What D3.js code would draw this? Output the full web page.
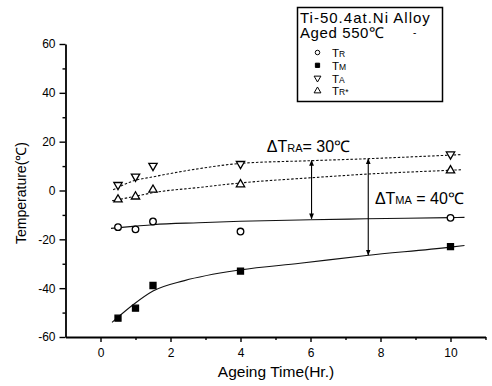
<!DOCTYPE html>
<html>
<head>
<meta charset="utf-8">
<script src="https://cdn.jsdelivr.net/npm/d3@7"></script>
<style>
body { margin: 0; background: #fff; }
text { font-family: "Liberation Sans", Arial, sans-serif; fill: #000; }
</style>
</head>
<body>
<svg width="492" height="386"></svg>
<script>
// measured points (ageing time in hours)
var ageTimes = [0.5, 1, 1.5, 4, 10];
var tR     = [-15, -15.9, -12.7, -16.8, -11.2];
var tM     = [-52.3, -48.2, -38.9, -33, -23];
var tA     = [2.3, 5.7, 10.1, 10.9, 14.8];
var tRstar = [-3.7, -2.5, 0.3, 2.5, 8.2];

// fitted curves
var fitA     = [[0.36, 0.3], [0.93, 3.9], [1.5, 5.6], [2.84, 9.0], [4, 11.1], [6, 12.2], [7.6, 13], [10, 14.5], [10.3, 14.7]];
var fitRstar = [[0.33, -4.2], [0.95, -2.5], [1.5, -0.9], [2.86, 1.3], [4, 3.1], [6, 5.2], [7.6, 6.7], [10, 8.3], [10.3, 8.5]];
var fitR     = [[0.3, -15.5], [1, -14.6], [1.5, -14], [2.8, -13.2], [4, -12.6], [6, -12], [7.6, -11.6], [10, -11.1], [10.4, -11]];
var fitM     = [[0.33, -54], [0.95, -46.6], [1.5, -41.2], [2.4, -36.9], [4, -32.5], [5.7, -29.8], [7.6, -26.6], [10, -23.2], [10.4, -22.5]];

// delta arrows: time, bottom, top
var deltaArrows = [[6.03, -11.6, 12.3], [7.65, -26.4, 13]];

var xTicks = [0, 2, 4, 6, 8, 10],
    xMinor = [1, 3, 5, 7, 9, 11],
    yTicks = [-60, -40, -20, 0, 20, 40, 60],
    yMinor = [-50, -30, -10, 10, 30, 50];

var svg = d3.select("svg");

var x = d3.scaleLinear().domain([-1, 11]).range([65.5, 485.5]),
    y = d3.scaleLinear().domain([-60, 60]).range([337, 44]);

var plain = function(d) { return String(d); };

var defs = svg.append("defs");
defs.append("marker")
    .attr("id", "head")
    .attr("viewBox", "0 0 10 10")
    .attr("refX", 9).attr("refY", 5)
    .attr("markerWidth", 6).attr("markerHeight", 6)
    .attr("markerUnits", "userSpaceOnUse")
    .attr("orient", "auto-start-reverse")
  .append("path")
    .attr("d", "M0,1L10,5L0,9Z")
    .attr("fill", "#000");

// axes
svg.append("g")
    .attr("transform", "translate(0," + y(-60) + ")")
    .call(d3.axisBottom(x).tickValues(xTicks).tickFormat(plain).tickSize(5).tickSizeOuter(0).tickPadding(6));
svg.append("g")
    .attr("transform", "translate(0," + y(-60) + ")")
    .call(d3.axisBottom(x).tickValues(xMinor).tickSize(3).tickSizeOuter(0).tickFormat(""))
    .select(".domain").remove();

svg.append("g")
    .attr("transform", "translate(" + x(-1) + ",0)")
    .call(d3.axisLeft(y).tickValues(yTicks).tickFormat(plain).tickSize(6).tickSizeOuter(0).tickPadding(4));
svg.append("g")
    .attr("transform", "translate(" + x(-1) + ",0)")
    .call(d3.axisLeft(y).tickValues(yMinor).tickSize(3).tickSizeOuter(0).tickFormat(""))
    .select(".domain").remove();

svg.selectAll(".domain").attr("stroke-width", 1.8);
svg.selectAll(".tick line").attr("stroke-width", 1.4);
svg.selectAll(".tick text")
    .attr("font-family", "'Liberation Sans', Arial, sans-serif")
    .attr("font-size", 12);

svg.append("text")
    .attr("x", 276).attr("y", 377)
    .attr("text-anchor", "middle")
    .attr("font-size", 15.5)
    .text("Ageing Time(Hr.)");

svg.append("text")
    .attr("transform", "translate(26,193) rotate(-90)")
    .attr("text-anchor", "middle")
    .attr("font-size", 14)
    .text("Temperature(\u2103)");

// fitted curves
var line = d3.line()
    .x(function(d) { return x(d[0]); })
    .y(function(d) { return y(d[1]); })
    .curve(d3.curveMonotoneX);

var fits = [
  {pts: fitA, dash: "2.5,1.8"},
  {pts: fitRstar, dash: "2.5,1.8"},
  {pts: fitR, dash: null},
  {pts: fitM, dash: null}
];
svg.selectAll("path.fit")
  .data(fits)
  .enter().append("path")
    .attr("class", "fit")
    .attr("d", function(d) { return line(d.pts); })
    .attr("fill", "none")
    .attr("stroke", "#111")
    .attr("stroke-width", 1.1)
    .attr("stroke-dasharray", function(d) { return d.dash; });

// arrows
svg.selectAll("line.delta")
  .data(deltaArrows)
  .enter().append("line")
    .attr("class", "delta")
    .attr("x1", function(d) { return x(d[0]); })
    .attr("x2", function(d) { return x(d[0]); })
    .attr("y1", function(d) { return y(d[1]); })
    .attr("y2", function(d) { return y(d[2]); })
    .attr("stroke", "#000")
    .attr("stroke-width", 1.1)
    .attr("marker-start", "url(#head)")
    .attr("marker-end", "url(#head)");

// markers
var series = [
  {vals: tR, type: d3.symbolCircle, size: 34, fill: "#fff", rot: 0},
  {vals: tM, type: d3.symbolSquare, size: 36, fill: "#000", rot: 0},
  {vals: tA, type: d3.symbolTriangle, size: 30, fill: "#fff", rot: 180},
  {vals: tRstar, type: d3.symbolTriangle, size: 30, fill: "#fff", rot: 0}
];

series.forEach(function(s) {
  svg.append("g").selectAll("path")
    .data(s.vals)
    .enter().append("path")
      .attr("d", d3.symbol().type(s.type).size(s.size))
      .attr("transform", function(d, i) {
        return "translate(" + x(ageTimes[i]) + "," + y(d) + ") rotate(" + s.rot + ")";
      })
      .attr("fill", s.fill)
      .attr("stroke", "#000")
      .attr("stroke-width", 1.3);
});

// delta labels
function deltaLabel(tx, ty, sub, rest) {
  var t = svg.append("text")
      .attr("x", x(tx)).attr("y", y(ty))
      .attr("font-size", 16);
  t.append("tspan").text("\u0394T");
  t.append("tspan").attr("font-size", 11).text(sub);
  t.append("tspan").text(rest);
}
deltaLabel(4.75, 15.6, "RA", "= 30\u2103");
deltaLabel(7.84, -5.5, "MA", " = 40\u2103");

// legend
var leg = svg.append("g");
leg.append("rect")
    .attr("x", 297.5).attr("y", 7.5)
    .attr("width", 145).attr("height", 94)
    .attr("fill", "#fff")
    .attr("stroke", "#000")
    .attr("stroke-width", 1.5);
leg.append("text")
    .attr("x", 300).attr("y", 22.5)
    .attr("font-size", 15)
    .attr("letter-spacing", 1)
    .text("Ti-50.4at.Ni Alloy");
leg.append("text")
    .attr("x", 300).attr("y", 38)
    .attr("font-size", 15)
    .attr("letter-spacing", 0.6)
    .text("Aged 550\u2103");
leg.append("text")
    .attr("x", 413).attr("y", 36)
    .attr("font-size", 10)
    .text("-");

var legItems = [
  {sub: "R", type: d3.symbolCircle, size: 16, fill: "#fff", rot: 0},
  {sub: "M", type: d3.symbolSquare, size: 18, fill: "#000", rot: 0},
  {sub: "A", type: d3.symbolTriangle, size: 20, fill: "#fff", rot: 180},
  {sub: "R*", type: d3.symbolTriangle, size: 20, fill: "#fff", rot: 0}
];
legItems.forEach(function(it, i) {
  var cy = 52.5 + i * 12.8;
  leg.append("path")
    .attr("d", d3.symbol().type(it.type).size(it.size))
    .attr("transform", "translate(317.5," + cy + ") rotate(" + it.rot + ")")
    .attr("fill", it.fill)
    .attr("stroke", "#000")
    .attr("stroke-width", 1);
  var t = leg.append("text")
    .attr("x", 332).attr("y", cy + 4.5)
    .attr("font-size", 11.5);
  t.append("tspan").text("T");
  t.append("tspan").attr("font-size", 8.5).text(it.sub);
});
</script>
</body>
</html>
